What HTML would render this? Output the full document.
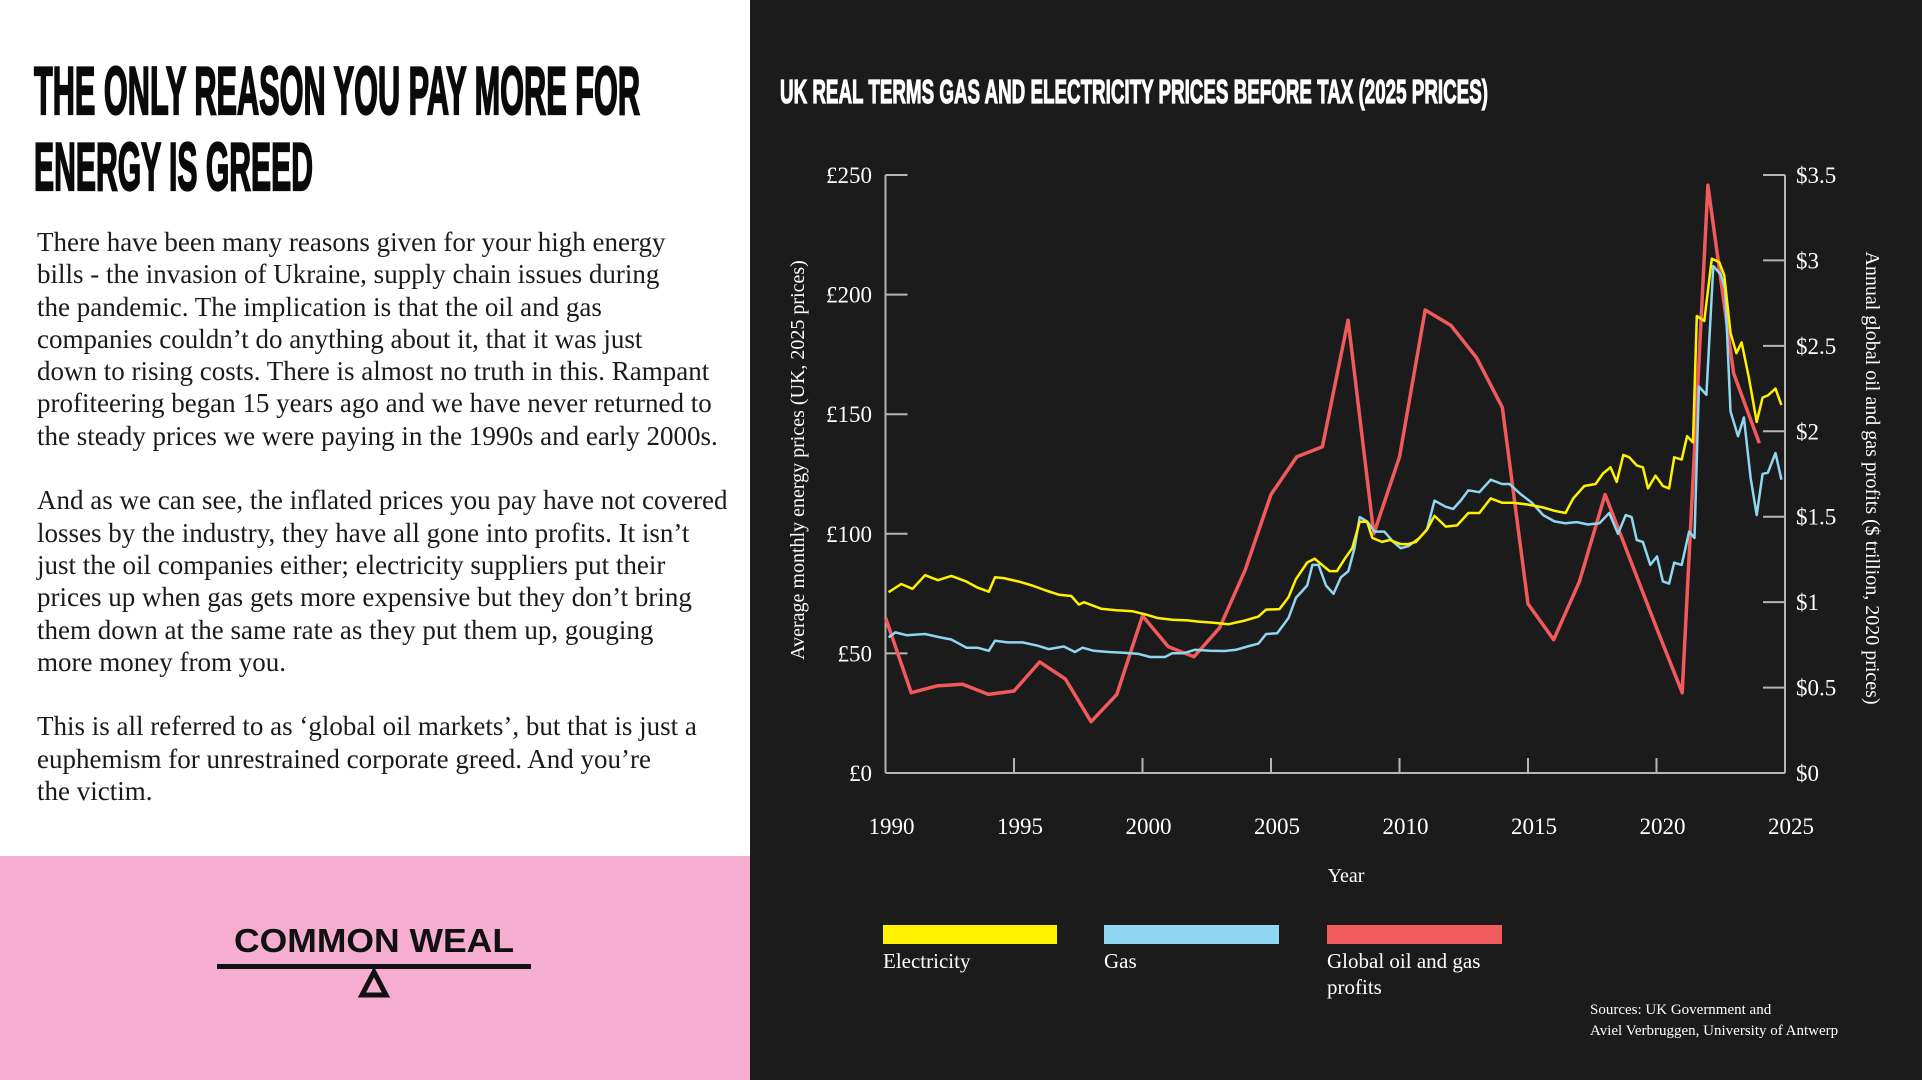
<!DOCTYPE html>
<html><head><meta charset="utf-8">
<style>
html,body{margin:0;padding:0}
body{width:1922px;height:1080px;position:relative;overflow:hidden;background:#1c1b1b;font-family:"Liberation Serif",serif}
#left{position:absolute;left:0;top:0;width:750px;height:856px;background:#fff}
#pink{position:absolute;left:0;top:856px;width:750px;height:224px;background:#f5aecf}
#body{position:absolute;left:37px;top:226px;font-size:27px;line-height:32.3px;color:#1a1a1a;white-space:nowrap}
#body p{margin:0 0 32.3px 0}
</style></head>
<body>
<div id="left"></div>
<svg style="position:absolute;left:0;top:0" width="750" height="230">
<text x="34" y="114" font-family="Liberation Sans Narrow, Liberation Sans, sans-serif" font-weight="bold" font-size="68" textLength="606" lengthAdjust="spacingAndGlyphs" fill="#0a0a0a" stroke="#0a0a0a" stroke-width="2.2">THE ONLY REASON YOU PAY MORE FOR</text>
<text x="34" y="190" font-family="Liberation Sans Narrow, Liberation Sans, sans-serif" font-weight="bold" font-size="68" textLength="279" lengthAdjust="spacingAndGlyphs" fill="#0a0a0a" stroke="#0a0a0a" stroke-width="2.2">ENERGY IS GREED</text>
</svg>
<div id="body">
<p>There have been many reasons given for your high energy<br>bills - the invasion of Ukraine, supply chain issues during<br>the pandemic. The implication is that the oil and gas<br>companies couldn’t do anything about it, that it was just<br>down to rising costs. There is almost no truth in this. Rampant<br>profiteering began 15 years ago and we have never returned to<br>the steady prices we were paying in the 1990s and early 2000s.</p>
<p>And as we can see, the inflated prices you pay have not covered<br>losses by the industry, they have all gone into profits. It isn’t<br>just the oil companies either; electricity suppliers put their<br>prices up when gas gets more expensive but they don’t bring<br>them down at the same rate as they put them up, gouging<br>more money from you.</p>
<p>This is all referred to as ‘global oil markets’, but that is just a<br>euphemism for unrestrained corporate greed. And you’re<br>the victim.</p>
</div>
<div id="pink"></div>
<svg style="position:absolute;left:0;top:856px" width="750" height="224">
<text x="374" y="96" text-anchor="middle" font-family="Liberation Sans, sans-serif" font-weight="bold" font-size="33" textLength="280" lengthAdjust="spacingAndGlyphs" fill="#111">COMMON WEAL</text>
<rect x="217" y="108" width="314" height="5" fill="#111"/>
<polygon points="374,116 362,139 386,139" fill="none" stroke="#111" stroke-width="5"/>
</svg>

<svg id="chart" style="position:absolute;left:0;top:0" width="1922" height="1080">
<text x="780" y="103" font-family="Liberation Sans Narrow, Liberation Sans, sans-serif" font-weight="bold" font-size="33" textLength="708" lengthAdjust="spacingAndGlyphs" fill="#fff" stroke="#fff" stroke-width="1.2">UK REAL TERMS GAS AND ELECTRICITY PRICES BEFORE TAX (2025 PRICES)</text>
<g id="axes"></g>
<g id="series"></g>
<text transform="translate(804,460) rotate(-90)" text-anchor="middle" font-size="20" fill="#fff">Average monthly energy prices (UK, 2025 prices)</text>
<text transform="translate(1866,478) rotate(90)" text-anchor="middle" font-size="20" fill="#fff">Annual global oil and gas profits ($ trillion, 2020 prices)</text>
<text x="1346" y="882" text-anchor="middle" font-size="20" fill="#fff">Year</text>
<g>
<rect x="883" y="925" width="174" height="19" fill="#fff200"/>
<text x="883" y="968" font-size="21" fill="#fff">Electricity</text>
<rect x="1104" y="925" width="175" height="19" fill="#8fd6f2"/>
<text x="1104" y="968" font-size="21" fill="#fff">Gas</text>
<rect x="1327" y="925" width="175" height="19" fill="#f05a5a"/>
<text x="1327" y="968" font-size="21" fill="#fff">Global oil and gas</text>
<text x="1327" y="994" font-size="21" fill="#fff">profits</text>
</g>
<g>
<text x="1590" y="1014" font-size="15" fill="#fff">Sources: UK Government and</text>
<text x="1590" y="1035" font-size="15" fill="#fff">Aviel Verbruggen, University of Antwerp</text>
</g>
</svg>
<script>
const xTicks=[1990,1995,2000,2005,2010,2015,2020,2025];
const leftTicks=[0,50,100,150,200,250];
const leftTickLabels=["£0","£50","£100","£150","£200","£250"];
const rightTicks=[0,0.5,1,1.5,2,2.5,3,3.5];
const rightTickLabels=["$0","$0.5","$1","$1.5","$2","$2.5","$3","$3.5"];
const elecYears=[1990.12,1990.61,1991.05,1991.54,1992.04,1992.56,1993.15,1993.58,1994.02,1994.26,1994.6,1995.19,1995.71,1996.24,1996.76,1997.23,1997.52,1997.72,1998.39,1998.98,1999.62,2000.14,2000.58,2001.16,2001.75,2002.18,2002.77,2003.35,2003.93,2004.51,2004.81,2005.33,2005.68,2005.97,2006.41,2006.7,2006.99,2007.28,2007.57,2007.87,2008.16,2008.45,2008.74,2008.94,2009.32,2009.62,2010.05,2010.34,2010.64,2011.07,2011.36,2011.8,2012.24,2012.68,2013.11,2013.55,2013.99,2014.42,2015.01,2015.59,2016.03,2016.46,2016.76,2017.19,2017.63,2017.92,2018.21,2018.45,2018.71,2018.94,2019.23,2019.47,2019.67,2019.96,2020.25,2020.49,2020.69,2020.98,2021.19,2021.42,2021.57,2021.86,2022.15,2022.44,2022.64,2022.88,2023.11,2023.31,2023.6,2023.9,2024.13,2024.33,2024.63,2024.86];
const elecValues=[75.6,79,77,82.7,80.6,82.4,80,77.5,75.8,81.8,81.5,80,78.4,76.3,74.5,74,70.4,71.4,68.7,68,67.6,66.2,64.8,64.1,63.8,63.3,62.8,62.2,63.6,65.4,68.3,68.5,73.5,81,88,89.6,87,84.4,84.4,89.6,94,105,105,98.3,96.6,97.4,95.7,95.7,96.6,101.8,107.5,103,103.5,108.7,108.7,114.8,113,113,112.2,111,109.6,108.7,114.8,120,120.8,125.2,127.8,121.7,133,132,128.6,127.8,119,124.3,120,119,132,131,140.8,138.2,191,189,215,213.6,208,184,175.5,180,165,146.8,157,157.8,160.7,153.8];
const gasYears=[1990.12,1990.38,1990.82,1991.54,1992.13,1992.56,1993.15,1993.58,1994.02,1994.26,1994.75,1995.33,1995.92,1996.35,1996.94,1997.37,1997.67,1998.1,1998.69,1999.27,1999.85,2000.29,2000.87,2001.16,2001.6,2002.04,2002.62,2003.2,2003.64,2004.08,2004.51,2004.81,2005.24,2005.68,2005.97,2006.41,2006.61,2006.85,2007.14,2007.43,2007.72,2008.01,2008.25,2008.45,2008.74,2009.03,2009.41,2009.76,2010.05,2010.34,2010.78,2011.07,2011.36,2011.8,2012.09,2012.38,2012.68,2013.11,2013.55,2013.99,2014.28,2014.72,2015.15,2015.59,2016.03,2016.46,2016.9,2017.34,2017.78,2018.16,2018.5,2018.8,2019.03,2019.23,2019.47,2019.76,2020.02,2020.25,2020.49,2020.69,2020.98,2021.27,2021.48,2021.65,2021.94,2022.21,2022.5,2022.67,2022.88,2023.17,2023.4,2023.66,2023.9,2024.13,2024.33,2024.63,2024.86];
const gasValues=[56.7,58.8,57.6,58.1,56.7,55.8,52.4,52.4,51.1,55.3,54.6,54.6,53.2,51.8,52.9,50.6,52.4,51.1,50.6,50.3,49.8,48.5,48.5,50.1,50.1,51.5,51.1,51,51.5,52.9,54.1,58.1,58.4,64.8,73.2,78.4,87,87,78.4,74.9,81.8,84.4,94,107,105.2,100.9,100.9,96.6,94,94.8,98.3,101.8,113.9,111.3,110.4,113.9,118.2,117.4,122.6,120.8,120.8,116.5,113,107.8,105.2,104.4,104.9,103.9,104.4,108.7,100,107.8,107,97.4,96.6,87,90.5,80.1,79.2,87.9,87,100.9,98.3,161.6,158.1,211.9,208.4,202.3,151.2,140.8,148.6,123.4,107.8,125.1,125.5,133.8,122.6];
const profitYears=[1990,1991,1992,1993,1994,1995,1996,1997,1998,1999,2000,2001,2002,2003,2004,2005,2006,2007,2008,2009,2010,2011,2012,2013,2014,2015,2016,2017,2018,2019,2020,2021,2022,2023,2024];
const profitValues=[0.91,0.47,0.51,0.52,0.46,0.48,0.65,0.55,0.30,0.46,0.92,0.74,0.68,0.85,1.19,1.63,1.85,1.91,2.65,1.40,1.85,2.71,2.62,2.43,2.14,0.99,0.78,1.12,1.63,1.24,0.85,0.47,3.44,2.34,1.93];

const X0=885.5,X1=1785,YB=773,YT=175;
const xS=y=>X0+(y-1990)/35*(X1-X0);
const yL=v=>YB-v/250*(YB-YT);
const yR=v=>YB-v/3.5*(YB-YT);
const NS="http://www.w3.org/2000/svg";
const axes=document.getElementById('axes'),ser=document.getElementById('series');
function mk(tag,attrs,parent){const e=document.createElementNS(NS,tag);for(const k in attrs)e.setAttribute(k,attrs[k]);parent.appendChild(e);return e;}
const ax='#b5b5b5';
let l=mk('line',{x1:X0,y1:YT,x2:X0,y2:YB,stroke:ax,'stroke-width':2},axes);


l=mk('line',{x1:X1,y1:YT,x2:X1,y2:YB,stroke:ax,'stroke-width':2},axes);


l=mk('line',{x1:X0,y1:YB,x2:X1,y2:YB,stroke:ax,'stroke-width':2},axes);


leftTicks.forEach((v,i)=>{
  mk('line',{x1:X0,y1:yL(v),x2:X0+22,y2:yL(v),stroke:ax,'stroke-width':2},axes);
  const t=mk('text',{x:872,y:yL(v)+8,'text-anchor':'end','font-size':23,fill:'#fff'},axes);
  t.textContent=leftTickLabels[i];
  
  
});
rightTicks.forEach((v,i)=>{
  mk('line',{x1:X1-22,y1:yR(v),x2:X1,y2:yR(v),stroke:ax,'stroke-width':2},axes);
  const t=mk('text',{x:1796,y:yR(v)+8,'font-size':23,fill:'#fff'},axes);
  t.textContent=rightTickLabels[i];
  
  
});
xTicks.forEach(v=>{
  if(v>1990&&v<2025) mk('line',{x1:xS(v),y1:YB,x2:xS(v),y2:YB-15,stroke:ax,'stroke-width':2},axes);
  const t=mk('text',{x:xS(v)+6,y:834,'text-anchor':'middle','font-size':23,fill:'#fff'},axes);
  t.textContent=v;
  
  
});
function line(xs,vs,sc,col,w,name){
  const d=xs.map((x,i)=>(i?'L':'M')+xS(x).toFixed(1)+','+sc(vs[i]).toFixed(1)).join(' ');
  const p=mk('path',{d:d,fill:'none',stroke:col,'stroke-width':w,'stroke-linejoin':'round'},ser);
  
  
}
line(profitYears,profitValues,yR,'#f05a5a',3.5,'profits-line');
line(gasYears,gasValues,yL,'#8fd6f2',2.5,'gas-line');
line(elecYears,elecValues,yL,'#fff200',2.5,'electricity-line');
</script>
</body></html>
